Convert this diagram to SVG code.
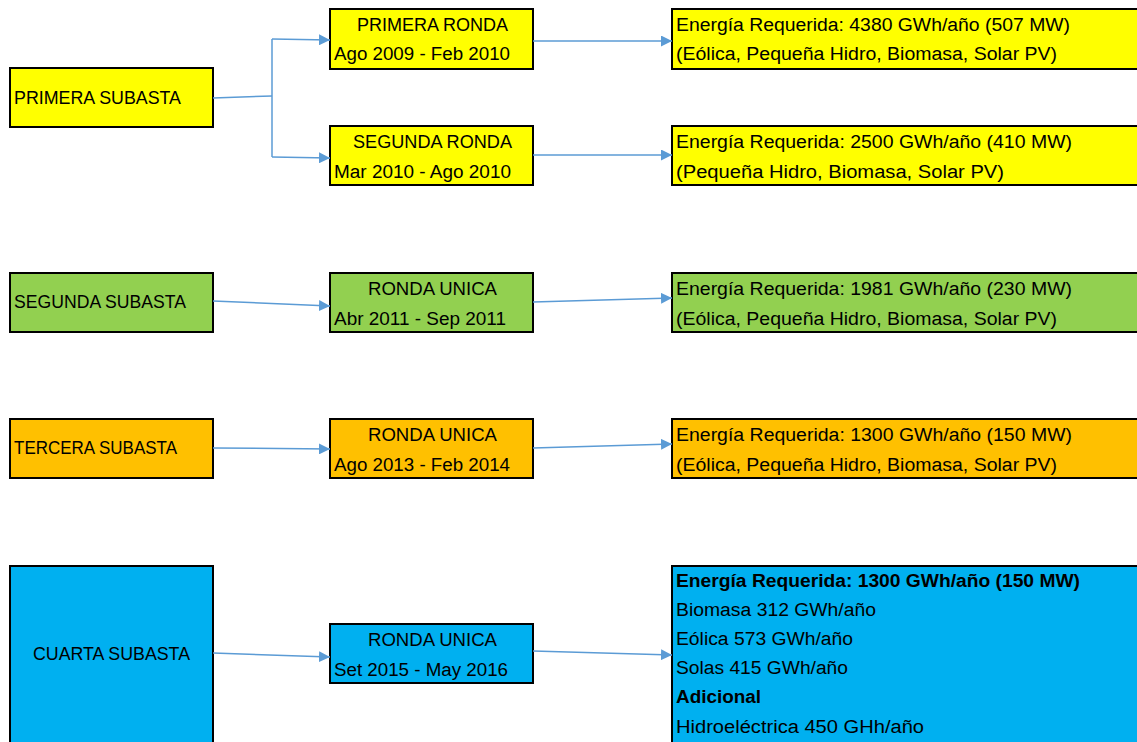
<svg xmlns="http://www.w3.org/2000/svg" width="1137" height="742" viewBox="0 0 1137 742">
<style>
.box{stroke:#000;stroke-width:2}
.y{fill:#FFFF00}.g{fill:#92D050}.o{fill:#FFC000}.b{fill:#00B0F0}
text{font-family:"Liberation Sans",Arial,sans-serif;font-size:18px;fill:#000}
.c{text-anchor:middle}
.bold{font-weight:bold}
.con{stroke:#5B9BD5;stroke-width:1.5;fill:none}
</style>
<defs>
<marker id="ah" viewBox="0 0 10 10" refX="10" refY="5" markerWidth="11" markerHeight="11" markerUnits="userSpaceOnUse" orient="auto">
<path d="M0,0 L10,5 L0,10 z" fill="#5B9BD5"/>
</marker>
</defs>
<g id="n1"><rect class="box y" x="10" y="68" width="203" height="59"/><text x="14" y="104" textLength="167" lengthAdjust="spacingAndGlyphs">PRIMERA SUBASTA</text></g>
<g id="n2"><rect class="box y" x="330" y="9" width="203" height="60"/><text class="c" x="432.5" y="31" textLength="151" lengthAdjust="spacingAndGlyphs">PRIMERA RONDA</text><text x="334" y="60" textLength="176" lengthAdjust="spacingAndGlyphs">Ago 2009 - Feb 2010</text></g>
<g id="n3"><rect class="box y" x="330" y="126" width="203" height="59"/><text class="c" x="432.5" y="148" textLength="159" lengthAdjust="spacingAndGlyphs">SEGUNDA RONDA</text><text x="334" y="178" textLength="177" lengthAdjust="spacingAndGlyphs">Mar 2010 - Ago 2010</text></g>
<g id="n4"><rect class="box y" x="672" y="9" width="470" height="60"/><text x="676" y="31" textLength="394" lengthAdjust="spacingAndGlyphs">Energía Requerida: 4380 GWh/año (507 MW)</text><text x="676" y="60" textLength="381" lengthAdjust="spacingAndGlyphs">(Eólica, Pequeña Hidro, Biomasa, Solar PV)</text></g>
<g id="n5"><rect class="box y" x="672" y="126" width="470" height="59"/><text x="676" y="148" textLength="396" lengthAdjust="spacingAndGlyphs">Energía Requerida: 2500 GWh/año (410 MW)</text><text x="676" y="178" textLength="328" lengthAdjust="spacingAndGlyphs">(Pequeña Hidro, Biomasa, Solar PV)</text></g>
<g id="n6"><rect class="box g" x="10" y="273" width="203" height="59"/><text x="14" y="308" textLength="172" lengthAdjust="spacingAndGlyphs">SEGUNDA SUBASTA</text></g>
<g id="n7"><rect class="box g" x="330" y="273" width="203" height="59"/><text class="c" x="432.5" y="295" textLength="129" lengthAdjust="spacingAndGlyphs">RONDA UNICA</text><text x="334" y="325" textLength="172" lengthAdjust="spacingAndGlyphs">Abr 2011 - Sep 2011</text></g>
<g id="n8"><rect class="box g" x="672" y="273" width="470" height="59"/><text x="676" y="295" textLength="396" lengthAdjust="spacingAndGlyphs">Energía Requerida: 1981 GWh/año (230 MW)</text><text x="676" y="325" textLength="381" lengthAdjust="spacingAndGlyphs">(Eólica, Pequeña Hidro, Biomasa, Solar PV)</text></g>
<g id="n9"><rect class="box o" x="10" y="419" width="203" height="59"/><text x="14" y="454" textLength="163" lengthAdjust="spacingAndGlyphs">TERCERA SUBASTA</text></g>
<g id="n10"><rect class="box o" x="330" y="419" width="203" height="59"/><text class="c" x="432.5" y="441" textLength="129" lengthAdjust="spacingAndGlyphs">RONDA UNICA</text><text x="334" y="471" textLength="176" lengthAdjust="spacingAndGlyphs">Ago 2013 - Feb 2014</text></g>
<g id="n11"><rect class="box o" x="672" y="419" width="470" height="59"/><text x="676" y="441" textLength="396" lengthAdjust="spacingAndGlyphs">Energía Requerida: 1300 GWh/año (150 MW)</text><text x="676" y="471" textLength="381" lengthAdjust="spacingAndGlyphs">(Eólica, Pequeña Hidro, Biomasa, Solar PV)</text></g>
<g id="n12"><rect class="box b" x="10" y="566" width="203" height="180"/><text class="c" x="111.5" y="660" textLength="157" lengthAdjust="spacingAndGlyphs">CUARTA SUBASTA</text></g>
<g id="n13"><rect class="box b" x="330" y="624" width="203" height="59"/><text class="c" x="432.5" y="646" textLength="129" lengthAdjust="spacingAndGlyphs">RONDA UNICA</text><text x="334" y="676" textLength="174" lengthAdjust="spacingAndGlyphs">Set 2015 - May 2016</text></g>
<g id="n14"><rect class="box b" x="672" y="566" width="470" height="180"/>
<text class="bold" x="676" y="587" textLength="404" lengthAdjust="spacingAndGlyphs">Energía Requerida: 1300 GWh/año (150 MW)</text>
<text x="676" y="616" textLength="200" lengthAdjust="spacingAndGlyphs">Biomasa 312 GWh/año</text>
<text x="676" y="645" textLength="177" lengthAdjust="spacingAndGlyphs">Eólica 573 GWh/año</text>
<text x="676" y="674" textLength="172" lengthAdjust="spacingAndGlyphs">Solas 415 GWh/año</text>
<text class="bold" x="676" y="703" textLength="85" lengthAdjust="spacingAndGlyphs">Adicional</text>
<text x="676" y="733" textLength="248" lengthAdjust="spacingAndGlyphs">Hidroeléctrica 450 GHh/año</text>
</g>
<g id="connectors">
<polyline class="con" points="213,98 272,96"/>
<polyline class="con" points="272,39 272,157"/>
<polyline class="con" points="272,39 330,40" marker-end="url(#ah)"/>
<polyline class="con" points="272,157 330,158" marker-end="url(#ah)"/>
<polyline class="con" points="533,41 672,41" marker-end="url(#ah)"/>
<polyline class="con" points="533,155 672,155" marker-end="url(#ah)"/>
<polyline class="con" points="213,301 330,306" marker-end="url(#ah)"/>
<polyline class="con" points="533,302 672,298" marker-end="url(#ah)"/>
<polyline class="con" points="213,448 330,449" marker-end="url(#ah)"/>
<polyline class="con" points="533,448 672,444" marker-end="url(#ah)"/>
<polyline class="con" points="213,653 330,657" marker-end="url(#ah)"/>
<polyline class="con" points="533,651 672,655" marker-end="url(#ah)"/>
</g>
</svg>
